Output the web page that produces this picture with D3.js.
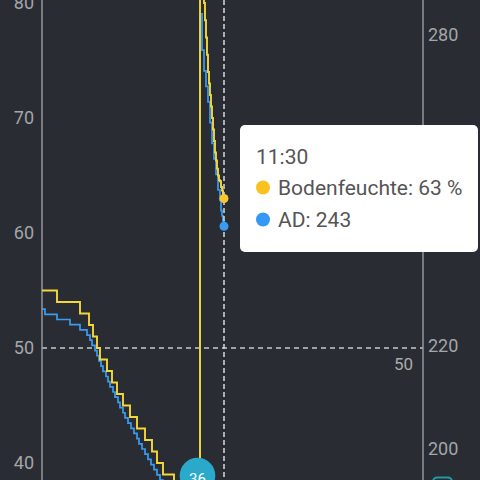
<!DOCTYPE html>
<html><head><meta charset="utf-8">
<script src="https://cdn.jsdelivr.net/npm/d3@7"></script>
<style>
html,body{margin:0;padding:0;background:#292c32;}
svg{display:block;font-family:Roboto,"Noto Sans",sans-serif;}
</style>
</head><body>
<svg id="c" width="480" height="480"></svg>
<script>
// ---- data ----
const day = "2023-06-01";
const xDomain = ["08:28", "14:48"];
const moistureTimes = ["08:28","08:43","09:06","09:15","09:19","09:23","09:26","09:33","09:38","09:43","09:49","09:56","10:03","10:11","10:18","10:23","10:29","10:40","10:51","11:03","11:06",
  "11:10","11:11","11:12","11:13","11:14","11:15","11:16","11:17","11:18","11:19","11:20","11:21","11:22","11:23","11:24","11:25","11:26","11:27","11:28","11:29","11:30"];
const moistureValues = [55,54,53,52,51,50,49,48,47,46,45,44,43,42,41,40,39,38,37,36,96,
  80,78.5,77,75.5,74,73,72,71,70,69,68,67,66.3,65.6,65,64.6,64.5,64,63.7,63.3,63];
const adTimes = ["08:28","08:31","08:43","08:56","09:06","09:13","09:16","09:18","09:21","09:23","09:25","09:27","09:29","09:32","09:34","09:36","09:39","09:41","09:44","09:46","09:49","09:51","09:54","09:57","10:00","10:03","10:05","10:08","10:11","10:14","10:17","10:20","10:23","10:26","10:29","10:34","10:41","10:48","10:56","11:03","11:06",
  "11:08","11:10","11:12","11:14","11:16","11:18","11:20","11:22","11:24","11:26","11:27","11:28","11:29","11:30"];
const adValues = [227,226,225,224,223,222,221,220,219,218,217,216,215,214,213,212,211,210,209,208,207,206,205,204,203,202,201,200,199,198,197,196,195,194,193,192,191,190,189,188,284,
  277,273,270,267,263,259,256,253,250,248,246,245,244,243];
const leftTicks = [40,50,60,70,80];
const rightTicks = [200,220,240,260,280];
const thresholdValue = 50;
const minMoistureLabel = "36";
const tooltipTime = "11:30";
const seriesNames = ["Bodenfeuchte","AD"];
const seriesUnits = [" %",""];

// ---- setup ----
const parse = d3.timeParse("%Y-%m-%d %H:%M");
const T = s => parse(day + " " + s);
const moisture = moistureTimes.map((t,i)=>({t:T(t), v:moistureValues[i]}));
const ad = adTimes.map((t,i)=>({t:T(t), v:adValues[i]}));

const svg = d3.select("#c");
const W = 480, H = 480;
const xL = 42, xR = 423;

const x = d3.scaleTime().domain(xDomain.map(T)).range([42, 422]);
const yL = d3.scaleLinear().domain([40,80]).range([463,3]);
const yR = d3.scaleLinear().domain([200,280]).range([449,34.6]);

svg.append("rect").attr("width",W).attr("height",H).attr("fill","#292c32");

// threshold markLine
svg.append("line").attr("x1",xL).attr("x2",xR).attr("y1",yL(thresholdValue)).attr("y2",yL(thresholdValue))
  .attr("stroke","#c8c8c8").attr("stroke-width",1.3).attr("stroke-dasharray","5,4");
svg.append("text").attr("x",413).attr("y",yL(thresholdValue)+22).attr("text-anchor","end")
  .attr("fill","#a9abae").attr("font-size",17).text(String(thresholdValue));

// axes
const axL = svg.append("g").attr("transform",`translate(${xL},0)`)
  .call(d3.axisLeft(yL).tickValues(leftTicks).tickSize(0).tickPadding(8));
const axR = svg.append("g").attr("transform",`translate(${xR},0)`)
  .call(d3.axisRight(yR).tickValues(rightTicks).tickSize(0).tickPadding(5));
[axL,axR].forEach(a=>{
  a.select(".domain").remove();
  a.selectAll("text").attr("fill","#a4a6a9").attr("font-size",18).attr("font-family","Roboto,sans-serif");
});
svg.append("line").attr("x1",xL).attr("x2",xL).attr("y1",0).attr("y2",H).attr("stroke","#a3a6aa").attr("stroke-width",1.3);
svg.append("line").attr("x1",xR).attr("x2",xR).attr("y1",0).attr("y2",H).attr("stroke","#a3a6aa").attr("stroke-width",1.3);

// series
const lineAD = d3.line().x(d=>x(d.t)).y(d=>yR(d.v)).curve(d3.curveStepAfter);
const lineM = d3.line().x(d=>x(d.t)).y(d=>yL(d.v)).curve(d3.curveStepAfter);
svg.append("path").datum(ad).attr("d",lineAD).attr("fill","none").attr("stroke","#3a9cf0").attr("stroke-width",1.7);
svg.append("path").datum(moisture).attr("d",lineM).attr("fill","none").attr("stroke","#f3d63a").attr("stroke-width",1.9);

// axis pointer
const tt = T(tooltipTime);
svg.append("line").attr("x1",x(tt)).attr("x2",x(tt)).attr("y1",0).attr("y2",H)
  .attr("stroke","#d8d8d8").attr("stroke-width",1.5).attr("stroke-dasharray","5,3");

// markers at pointer
const mAt = moisture[moisture.length-1], aAt = ad[ad.length-1];
svg.append("circle").attr("cx",x(mAt.t)).attr("cy",yL(mAt.v)).attr("r",4.5).attr("fill","#f9c531");
svg.append("circle").attr("cx",x(aAt.t)).attr("cy",yR(aAt.v)).attr("r",4.5).attr("fill","#3a9cf0");

// min markPoint bubble
const minIdx = moistureValues.indexOf(+minMoistureLabel);
const mp = moisture[minIdx];
svg.append("circle").attr("cx",x(mp.t)+0.5).attr("cy",475.5).attr("r",17.8).attr("fill","#2ba9cb");
svg.append("text").attr("x",x(mp.t)+0.5).attr("y",484).attr("text-anchor","middle").attr("fill","#ffffff")
  .attr("font-size",15).text(minMoistureLabel);

// bottom-right partial marker
svg.append("rect").attr("x",433).attr("y",477.5).attr("width",19).attr("height",14).attr("rx",4)
  .attr("fill","none").attr("stroke","#1f9aa6").attr("stroke-width",2);

// tooltip
const tip = svg.append("g");
tip.append("rect").attr("x",240).attr("y",125).attr("width",238).attr("height",127).attr("rx",5).attr("fill","#ffffff");
tip.append("text").attr("x",256).attr("y",164).attr("font-size",21).attr("fill","#555555").text(tooltipTime);
const rows = [
  {c:"#fbc21f", label: seriesNames[0] + ": " + Math.round(mAt.v) + seriesUnits[0], y:195},
  {c:"#3399f5", label: seriesNames[1] + ": " + Math.round(aAt.v) + seriesUnits[1], y:227}
];
rows.forEach(r=>{
  tip.append("circle").attr("cx",263).attr("cy",r.y-7.5).attr("r",7).attr("fill",r.c);
  tip.append("text").attr("x",278).attr("y",r.y).attr("font-size",21).attr("fill","#555555").text(r.label);
});
</script>
</body></html>
